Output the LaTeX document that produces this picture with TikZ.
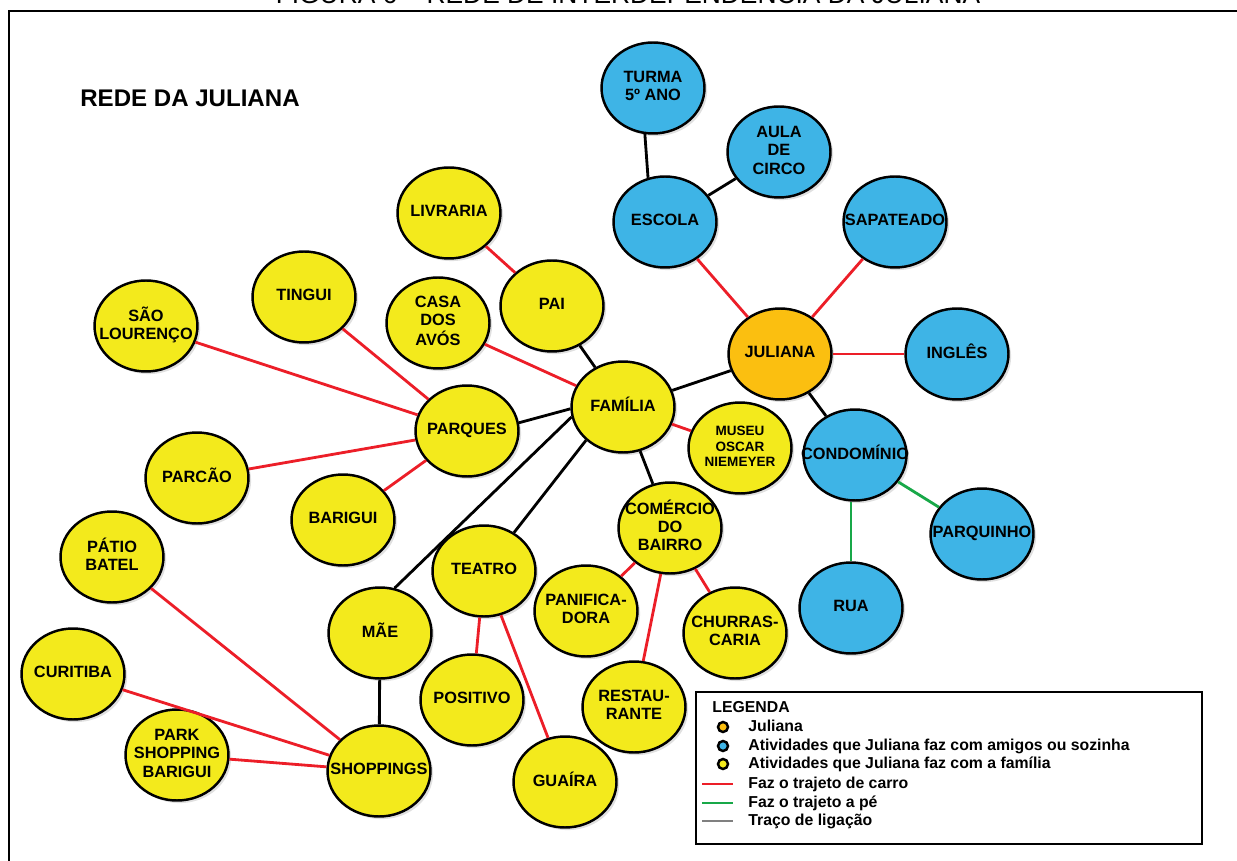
\documentclass[tikz,border=0pt]{standalone}
\usepackage{fontspec}
\setmainfont{Liberation Sans}
\usetikzlibrary{shapes.geometric, positioning, shadows}
\tikzset{x=0.02cm, y=-0.02cm, node distance=0.3cm}

\definecolor{family_yellow}{RGB}{243,234,28}
\definecolor{friends_blue}{RGB}{62,180,230}
\definecolor{juliana_orange}{RGB}{251,191,16}
\definecolor{car_red}{RGB}{236,30,40}
\definecolor{walk_green}{RGB}{24,168,72}

% text of a bubble, kept out of the ellipse size
\newcommand{\lbl}[1]{\makebox[0pt]{\begin{tabular}{@{}c@{}}#1\end{tabular}}}

\begin{document}
\begin{tikzpicture}[bubble/.style={ellipse, draw=black, line width=1.4pt, inner sep=0pt, minimum width=2.06cm, minimum height=1.82cm, font=\bfseries\fontsize{9.3}{10.5}\selectfont, drop shadow={shadow xshift=1.5pt, shadow yshift=-1.5pt, fill=black!35, opacity=0.35}},
family/.style={bubble, fill=family_yellow}, friends/.style={bubble, fill=friends_blue}, self/.style={bubble, fill=juliana_orange},
small_text/.style={font=\bfseries\fontsize{7.7}{8.8}\selectfont},
link/.style={line width=1.6pt, black}, car/.style={line width=1.6pt, car_red}, walk/.style={line width=1.6pt, walk_green},
legend_text/.style={font=\bfseries\fontsize{9}{10.5}\selectfont, anchor=base west, inner sep=0pt},
legend_dot/.style={circle, draw=black, line width=1.4pt, minimum size=0.2cm, inner sep=0pt}]
    \useasboundingbox (0,0) rectangle (1237,861);

    % frame and titles
    \draw[line width=1.1pt] (9,880) -- (9,11) -- (1250,11);
    \node[anchor=base, inner sep=0pt, font=\fontsize{15}{18}\selectfont] (figure_title) at (628,4) {FIGURA 6 – REDE DE INTERDEPENDÊNCIA DA JULIANA};
    \node[anchor=base west, inner sep=0pt, font=\bfseries\fontsize{13.7}{16}\selectfont] (net_title) at (80,107) {REDE DA JULIANA};

    % Juliana and her own activities
    \node[self] (juliana) at (780,354) {\lbl{JULIANA}};
    \node[friends] (turma) at (653,88) {\lbl{TURMA\\5º ANO}};
    \node[friends] (aula) at (779,152) {\lbl{AULA\\DE\\CIRCO}};
    \node[friends] (escola) at (665,222) {\lbl{ESCOLA}};
    \node[friends] (sapateado) at (895,222) {\lbl{SAPATEADO}};
    \node[friends] (ingles) at (957,354) {\lbl{INGLÊS}};
    \node[friends] (condominio) at (855,455) {\lbl{CONDOMÍNIO}};
    \node[friends] (parquinho) at (982,534) {\lbl{PARQUINHO}};
    \node[friends] (rua) at (851,608) {\lbl{RUA}};

    % family side
    \node[family] (familia) at (623,407) {\lbl{FAMÍLIA}};
    \node[family] (pai) at (552,306) {\lbl{PAI}};
    \node[family] (livraria) at (449,213) {\lbl{LIVRARIA}};
    \node[family] (casa_avos) at (438,323) {\lbl{CASA\\DOS\\AVÓS}};
    \node[family, small_text] (museu) at (740,448) {\lbl{MUSEU\\OSCAR\\NIEMEYER}};
    \node[family] (parques) at (467,431) {\lbl{PARQUES}};
    \node[family] (tingui) at (304,297) {\lbl{TINGUI}};
    \node[family] (sao_lourenco) at (146,326) {\lbl{SÃO\\LOURENÇO}};
    \node[family] (parcao) at (197,478) {\lbl{PARCÃO}};
    \node[family] (barigui) at (343,520) {\lbl{BARIGUI}};
    \node[family] (comercio) at (670,528) {\lbl{COMÉRCIO\\DO\\BAIRRO}};
    \node[family] (panificadora) at (586,611) {\lbl{PANIFICA-\\DORA}};
    \node[family] (churrascaria) at (735,633) {\lbl{CHURRAS-\\CARIA}};
    \node[family] (restaurante) at (634,707) {\lbl{RESTAU-\\RANTE}};
    \node[family] (teatro) at (484,571) {\lbl{TEATRO}};
    \node[family] (positivo) at (472,700) {\lbl{POSITIVO}};
    \node[family] (guaira) at (565,782) {\lbl{GUAÍRA}};
    \node[family] (mae) at (380,633) {\lbl{MÃE}};
    \node[family] (shoppings) at (379,771) {\lbl{SHOPPINGS}};
    \node[family] (patio_batel) at (112,557) {\lbl{PÁTIO\\BATEL}};
    \node[family] (curitiba) at (73,674) {\lbl{CURITIBA}};
    \node[family] (park_shopping) at (177,755) {\lbl{PARK\\SHOPPING\\BARIGUI}};

    % connections
    \draw[link] (turma.260) -- (escola.111);
    \draw[link] (aula) -- (escola);
    \draw[car] (escola) -- (juliana);
    \draw[car] (sapateado) -- (juliana);
    \draw[car] (ingles) -- (juliana);
    \draw[link] (juliana) -- (condominio);
    \draw[walk] (rua.north) -- (rua.north |- condominio.south);
    \draw[walk] (condominio) -- (parquinho);
    \draw[link] (juliana) -- (familia);
    \draw[link] (pai) -- (familia);
    \draw[car] (livraria) -- (pai);
    \draw[car] (casa_avos) -- (familia);
    \draw[car] (familia) -- (museu);
    \draw[link] (parques.9) -- (familia.182);
    \draw[car] (tingui) -- (parques);
    \draw[car] (sao_lourenco) -- (parques);
    \draw[car] (parcao) -- (parques);
    \draw[car] (barigui) -- (parques);
    \draw[link] (familia) -- (comercio);
    \draw[car] (comercio) -- (panificadora);
    \draw[car] (comercio) -- (churrascaria);
    \draw[car] (comercio) -- (restaurante);
    \draw[link] (teatro.52) -- (familia.222);
    \draw[car] (teatro) -- (positivo);
    \draw[car] (teatro) -- (guaira);
    \draw[link] (mae.72) -- (familia.191);
    \draw[link] (mae) -- (shoppings);
    \draw[car] (patio_batel) -- (shoppings);
    \draw[car] (curitiba) -- (shoppings);
    \draw[car] (park_shopping) -- (shoppings);

    % legend
    \draw[line width=1.1pt] (696,692) rectangle (1202,844);
    \node[legend_text] (leg_title) at (712,712) {LEGENDA};
    \node[legend_text] (leg_juliana) at (748,731) {Juliana};
    \node[legend_text] (leg_friends) at (748,750) {Atividades que Juliana faz com amigos ou sozinha};
    \node[legend_text] (leg_family) at (748,768) {Atividades que Juliana faz com a família};
    \node[legend_text] (leg_car) at (748,788) {Faz o trajeto de carro};
    \node[legend_text] (leg_walk) at (748,807) {Faz o trajeto a pé};
    \node[legend_text] (leg_link) at (748,825) {Traço de ligação};
    \node[legend_dot, fill=juliana_orange] (dot_juliana) at (723,727) {};
    \node[legend_dot, fill=friends_blue] (dot_friends) at (723,746) {};
    \node[legend_dot, fill=family_yellow] (dot_family) at (723,764) {};
    \draw[car_red, line width=0.8pt] (leg_car.base west) ++(-46,-4) -- ++(31,0);
    \draw[walk_green, line width=0.8pt] (leg_walk.base west) ++(-46,-4) -- ++(31,0);
    \draw[gray, line width=0.8pt] (leg_link.base west) ++(-46,-4) -- ++(31,0);
\end{tikzpicture}
\end{document}
